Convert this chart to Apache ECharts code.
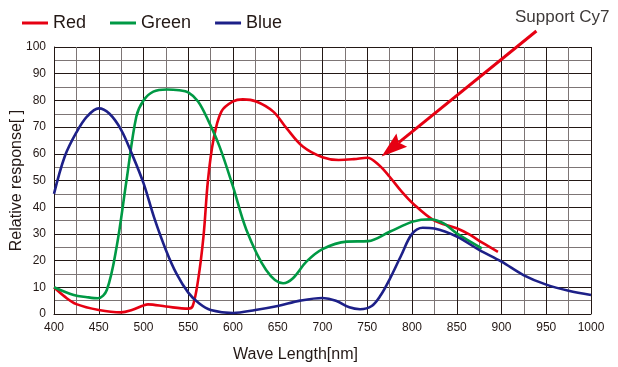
<!DOCTYPE html>
<html><head><meta charset="utf-8">
<script src="https://cdn.jsdelivr.net/npm/echarts@6/dist/echarts.min.js"></script>
<style>html,body{margin:0;padding:0;background:#fff}#c{width:618px;height:367px}</style>
</head><body><div id="c"></div>
<script>
const seriesNames = ['Red', 'Green', 'Blue'];
const redNm  = [400,412,425,450,475,487,500,505,525,550,555,561,567,572,578,587,600,611,626,645,660,678,700,718,735,750,763,775,788,801,824,850,865,878,896];
const redVal = [10,6.5,3.7,1.5,0.6,1.5,3.2,3.6,2.8,2.0,3,12.7,29,50,65,75.8,79.6,80.4,79.6,75.8,69.5,62.7,58.7,57.7,58,58.5,55.8,51.4,46,41.4,35.2,32.1,29.6,26.8,23.3];
const greenNm  = [400,422,437,449,459,470,481,492,500,511,526,540,550,561,572,585,600,615,637,656,667,682,700,727,751,775,801,820,835,850,878];
const greenVal = [10,7.1,6.3,5.9,9,25.2,50,74,80,83.3,84.1,83.8,83,79.6,72.7,62.7,47.7,31.5,16.5,11.5,13.4,19.6,24.3,27.1,27.3,30.8,34.6,35.5,34,30.2,24.6];
const blueNm  = [400,412,425,437,450,462,475,487,500,512,525,537,550,562,575,600,625,650,675,700,715,730,742,755,765,775,788,800,812,825,850,875,900,925,950,975,1000];
const blueVal = [45,59,68,74,77,75,69,60,49,36,24,15,8,4,1.5,0.4,1.5,3,5,6,5,2.5,1.8,3,7,13,22,30,32.3,32,29,24,19.6,14.5,11,8.7,7.1];
const xTicks = [400,450,500,550,600,650,700,750,800,850,900,950,1000];
const yTicks = [0,10,20,30,40,50,60,70,80,90,100];
const annotationText = 'Support Cy7';
const arrowFrom = [939, 106];
const arrowTo = [766, 59];

const colors = ['#e60012', '#009944', '#1d2088'];
const zip = (a, b) => a.map((v, i) => [v, b[i]]);
const font = '"Liberation Sans", Arial, sans-serif';

const chart = echarts.init(document.getElementById('c'));
const mk = (name, nm, val, color) => ({
  name, type: 'line', data: zip(nm, val), smooth: 0.35, showSymbol: false, symbol: 'none',
  lineStyle: { color, width: 2.6 }, itemStyle: { color }, z: 3
});
const axisCommon = {
  type: 'value', nameLocation: 'middle', nameMoveOverlap: false,
  nameTextStyle: { fontSize: 16, color: '#231815' },
  axisLine: { show: true, lineStyle: { color: '#231815', width: 1 } },
  axisTick: { show: false },
  axisLabel: { fontSize: 12, color: '#231815', margin: 8, formatter: v => String(v) },
  splitLine: { show: true, lineStyle: { color: '#231815', width: 1 } },
  minorTick: { show: false, splitNumber: 2 },
  minorSplitLine: { show: true, lineStyle: { color: '#7d7575', width: 1 } }
};
chart.setOption({
  animation: false,
  textStyle: { fontFamily: font },
  color: colors,
  legend: {
    data: seriesNames, left: 17, top: 9, icon: 'rect', itemWidth: 26, itemHeight: 3, itemGap: 24,
    textStyle: { fontSize: 18, color: '#231815', fontFamily: font }
  },
  grid: { left: 54, right: 27, top: 47, bottom: 53, containLabel: false, outerBoundsMode: 'none' },
  xAxis: Object.assign({}, axisCommon, {
    min: xTicks[0], max: xTicks[xTicks.length - 1], interval: 50,
    name: 'Wave Length[nm]', nameGap: 33,
    nameTextStyle: { fontSize: 16, color: '#231815', padding: [0, 54, 0, 0] }
  }),
  yAxis: Object.assign({}, axisCommon, {
    min: yTicks[0], max: yTicks[yTicks.length - 1], interval: 10,
    name: 'Relative response[ ]', nameGap: 29
  }),
  series: [
    mk(seriesNames[0], redNm, redVal, colors[0]),
    mk(seriesNames[1], greenNm, greenVal, colors[1]),
    mk(seriesNames[2], blueNm, blueVal, colors[2])
  ]
});

// annotation arrow positioned through the chart's own coordinate system
const p0 = chart.convertToPixel({ gridIndex: 0 }, arrowFrom);
const p1 = chart.convertToPixel({ gridIndex: 0 }, arrowTo);
const dx = p0[0] - p1[0], dy = p0[1] - p1[1];
const len = Math.hypot(dx, dy);
const ux = dx / len, uy = dy / len, px = -uy, py = ux;
const headLen = 26, headHalf = 8.5;
const base = [p1[0] + ux * headLen, p1[1] + uy * headLen];
const notch = [p1[0] + ux * (headLen - 4), p1[1] + uy * (headLen - 4)];
chart.setOption({
  graphic: [
    { type: 'text', left: 515, top: 9, z: 10,
      style: { text: annotationText, fill: '#3e3a39', font: '17px ' + font } },
    { type: 'line', z: 10, silent: true,
      shape: { x1: p0[0], y1: p0[1], x2: notch[0], y2: notch[1] },
      style: { stroke: colors[0], lineWidth: 3 } },
    { type: 'polygon', z: 10, silent: true,
      shape: { points: [p1,
        [base[0] + px * headHalf, base[1] + py * headHalf],
        notch,
        [base[0] - px * headHalf, base[1] - py * headHalf]] },
      style: { fill: colors[0] } }
  ]
});
</script></body></html>
